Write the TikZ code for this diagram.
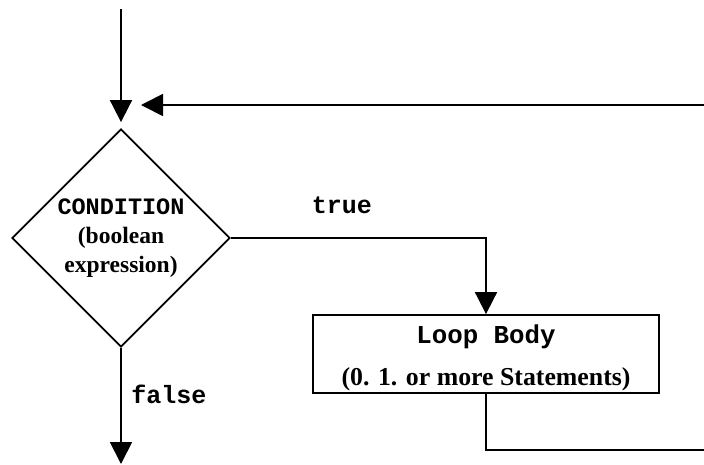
\documentclass[tikz,border=0pt]{standalone}
\usepackage{fontspec}
\setmainfont{Liberation Serif}
\setmonofont{Liberation Mono}
\usetikzlibrary{shapes.geometric,arrows.meta}
\begin{document}
\begin{tikzpicture}[x=1pt,y=-1pt,line width=1.8pt,
  flow/.style={-{Triangle[length=22pt,width=22pt]}},
  cond/.style={diamond,draw,minimum width=218pt,minimum height=218pt,inner sep=0pt,align=center,font=\bfseries\fontsize{23.5}{29}\selectfont},
  body/.style={draw,minimum width=346pt,minimum height=78pt,inner ysep=0pt,align=center,font=\bfseries\fontsize{25.8}{42}\selectfont},
  lbl/.style={font=\ttfamily\bfseries\fontsize{25}{30}\selectfont}]
  \useasboundingbox (0,0) rectangle (704,464);
  \path (121,9) coordinate (in) (704,105) coordinate (back) (141,105) coordinate (join)
    (121,464) coordinate (out) (704,450) coordinate (ret);
  \node[cond] (cond) at (121,238) {\texttt{CONDITION}\\(boolean\\expression)};
  \node[body] (body) at (486,354) {\rule{0pt}{27pt}\texttt{Loop Body}\\(0. 1. or more Statements)};
  \draw[flow,shorten >=6pt] (in)--(cond.north);
  \draw[flow] (back)--(join);
  \draw[flow] (cond.east)-|(body.north);
  \draw[flow] (cond.south)--(out);
  \draw (body.south)|-(ret);
  \node[lbl] (true) at (342,205) {true};
  \node[lbl] (false) at (169,394) {false};
\end{tikzpicture}
\end{document}
